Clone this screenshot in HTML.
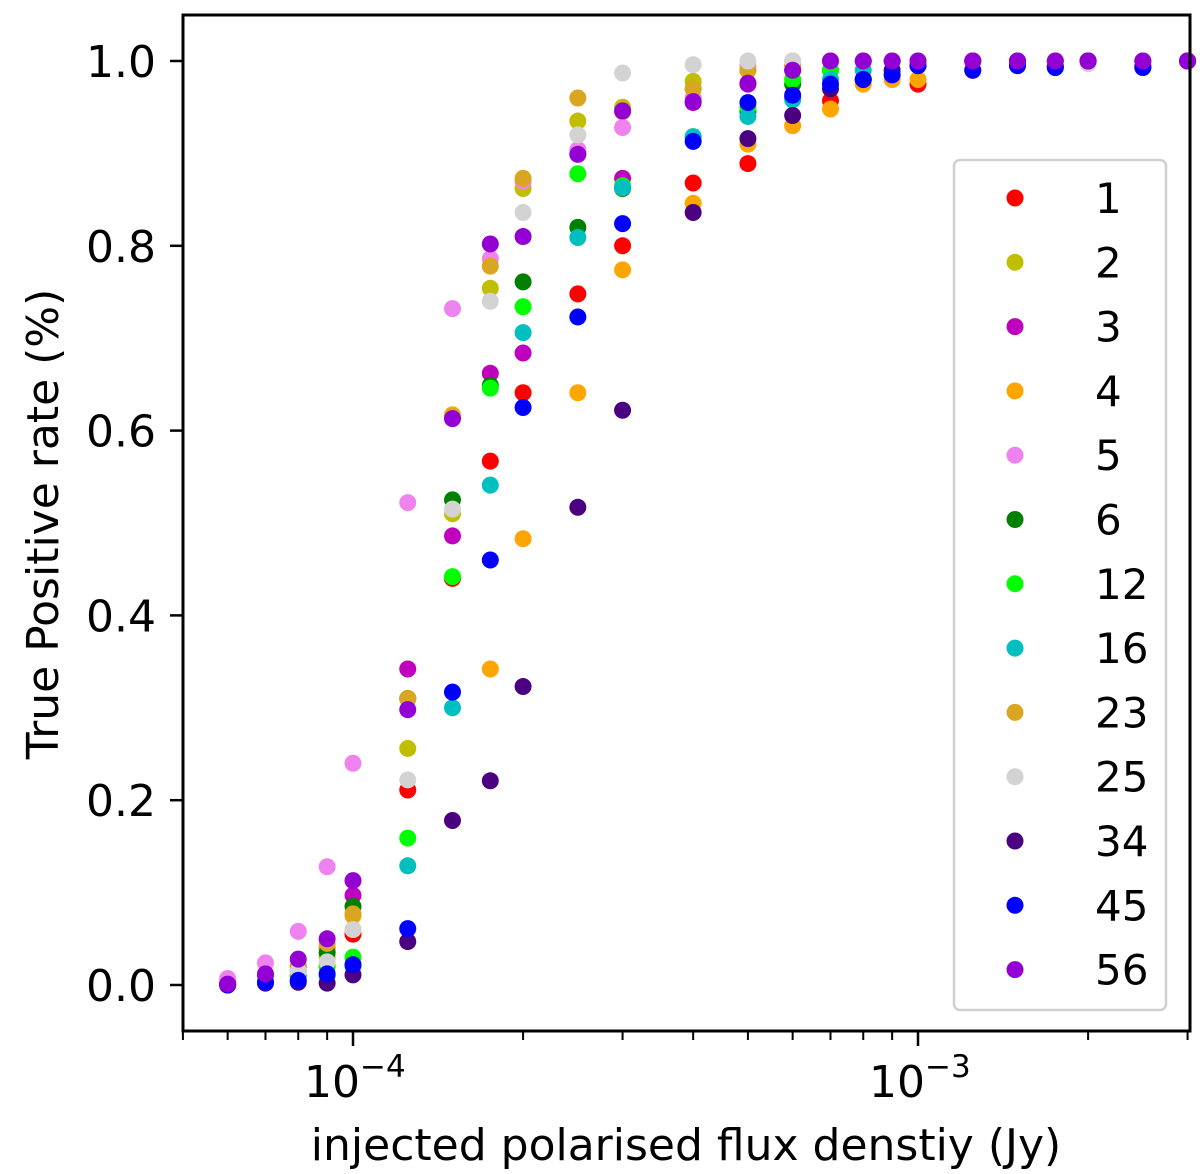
<!DOCTYPE html>
<html><head><meta charset="utf-8"><style>
body{margin:0;background:#fff;}
svg{display:block;font-family:"DejaVu Sans","Liberation Sans",sans-serif;}
</style></head><body>
<svg id="chart" width="1200" height="1174" viewBox="0 0 1200 1174"></svg>
<script>
const xs=[6e-5,7e-5,8e-5,9e-5,1e-4,1.25e-4,1.5e-4,1.75e-4,2e-4,2.5e-4,3e-4,4e-4,5e-4,6e-4,7e-4,8e-4,9e-4,1e-3,1.25e-3,1.5e-3,1.75e-3,2e-3,2.5e-3,3e-3];
const seriesNames=["1","2","3","4","5","6","12","16","23","25","34","45","56"];
const seriesColors=["#ff0000","#bfbf00","#bf00bf","#ffa500","#ee82ee","#008000","#00ff00","#00bfbf","#daa520","#d3d3d3","#4b0082","#0000ff","#9400d3"];
const s1=[0,.005,.01,.02,.055,.211,.44,.567,.641,.748,.80,.868,.889,.96,.957,.98,.985,.975,.99,.995,.995,1,.995,1];
const s2=[0,.005,.01,.03,.06,.256,.51,.754,.862,.935,.95,.978,.99,.995,1,1,1,1,1,1,1,1,1,1];
const s3=[.003,.01,.02,.04,.097,.342,.486,.662,.684,.90,.873,.955,.975,.99,1,1,1,1,1,1,1,1,1,1];
const s4=[0,.005,.01,.04,.075,.31,.617,.342,.483,.641,.774,.846,.91,.93,.948,.975,.98,.98,.99,1,.995,1,1,1];
const s5=[.007,.024,.058,.128,.24,.522,.732,.786,.87,.904,.928,.96,.995,1,1,1,1,1,1,1,1,1,1,1];
const s6=[0,.005,.015,.035,.085,.31,.525,.649,.761,.82,.862,.918,.945,.975,.99,1,1,1,1,1,1,1,1,1];
const s12=[0,.005,.01,.02,.03,.159,.442,.646,.734,.878,.865,.97,.95,.98,.99,1,1,1,1,1,1,1,1,1];
const s16=[0,.003,.005,.01,.02,.129,.30,.541,.706,.809,.863,.918,.94,.958,.98,.99,1,1,1,1,1,1,1,1];
const s23=[0,.005,.02,.045,.077,.31,.615,.778,.873,.96,.945,.97,.99,.995,1,1,1,1,1,1,1,1,1,1];
const s25=[0,.005,.015,.025,.06,.222,.515,.74,.836,.92,.987,.996,1,1,1,1,1,1,1,1,1,.997,1,1];
const s34=[0,.002,.003,.002,.011,.047,.178,.221,.323,.517,.622,.836,.916,.941,.97,.98,.99,.995,1,1,.993,1,.993,1];
const s45=[0,.003,.005,.012,.022,.061,.317,.46,.625,.723,.824,.913,.955,.963,.975,.98,.985,.995,.99,.995,.993,1,.993,1];
const s56=[.001,.012,.028,.05,.113,.298,.613,.802,.81,.899,.946,.956,.976,.99,1,1,1,1,1,1,1,1,1,1];
const seriesValues=[s1,s2,s3,s4,s5,s6,s12,s16,s23,s25,s34,s45,s56];
const yTicks=[0,0.2,0.4,0.6,0.8,1.0];
const yTickLabels=["0.0","0.2","0.4","0.6","0.8","1.0"];
const xMajor=[1e-4,1e-3];
const xMajorExp=["−4","−3"];
const xMinor=[5e-5,6e-5,7e-5,8e-5,9e-5,2e-4,3e-4,4e-4,5e-4,6e-4,7e-4,8e-4,9e-4,2e-3,3e-3];

const NS="http://www.w3.org/2000/svg";
const svg=document.getElementById('chart');
const L=183,R=1190,T=15,B=1031;
function xPos(v){return 353+(Math.log10(v)+4)*565;}
function yPos(v){return 985-v*924;}
function mk(tag,attrs,parent){const e=document.createElementNS(NS,tag);for(const k in attrs)e.setAttribute(k,attrs[k]);(parent||svg).appendChild(e);return e;}

const pts=mk('g',{});


seriesValues.forEach((vals,si)=>{
  const g=mk('g',{fill:seriesColors[si]},pts);
  
  
  vals.forEach((v,i)=>{
    const c=mk('circle',{cx:xPos(xs[i]),cy:yPos(v),r:8.5},g);
    
    
  });
});

const frame=mk('rect',{x:L,y:T,width:R-L,height:B-T,fill:'none',stroke:'#000','stroke-width':3});



yTicks.forEach((v,i)=>{
  const y=yPos(v);
  const t=mk('line',{x1:L-13,x2:L,y1:y,y2:y,stroke:'#000','stroke-width':2.5});
  
  
  const tx=mk('text',{x:L-27,y:y+16,'text-anchor':'end','font-size':44});
  tx.textContent=yTickLabels[i];
  
  
});
xMinor.forEach(v=>{
  const x=xPos(v);
  const t=mk('line',{x1:x,x2:x,y1:B,y2:B+9,stroke:'#000','stroke-width':2});
  
  
});
xMajor.forEach((v,i)=>{
  const x=xPos(v);
  const t=mk('line',{x1:x,x2:x,y1:B,y2:B+15,stroke:'#000','stroke-width':2.5});
  
  
  const tx=mk('text',{x:x-49,y:1097,'font-size':44});
  
  
  tx.innerHTML='10<tspan dy="-20" font-size="31">'+xMajorExp[i]+'</tspan>';
});

const xt=mk('text',{x:686,y:1160,'text-anchor':'middle','font-size':44});
xt.textContent='injected polarised flux denstiy (Jy)';


const yt=mk('text',{x:0,y:0,'text-anchor':'middle','font-size':44,transform:'translate(58,524) rotate(-90)'});
yt.textContent='True Positive rate (%)';



const lg=mk('g',{});


const lb=mk('rect',{x:954,y:160,width:212,height:850,rx:6,fill:'#fff','fill-opacity':0.8,stroke:'#d0d0d0','stroke-width':2.5},lg);


seriesNames.forEach((n,i)=>{
  const y=198+i*64.3;
  const e=mk('g',{},lg);
  
  
  mk('circle',{cx:1015,cy:y,r:8.5,fill:seriesColors[i]},e);
  const t=mk('text',{x:1095,y:y+15,'font-size':42},e);
  t.textContent=n;
});
</script>
</body></html>
